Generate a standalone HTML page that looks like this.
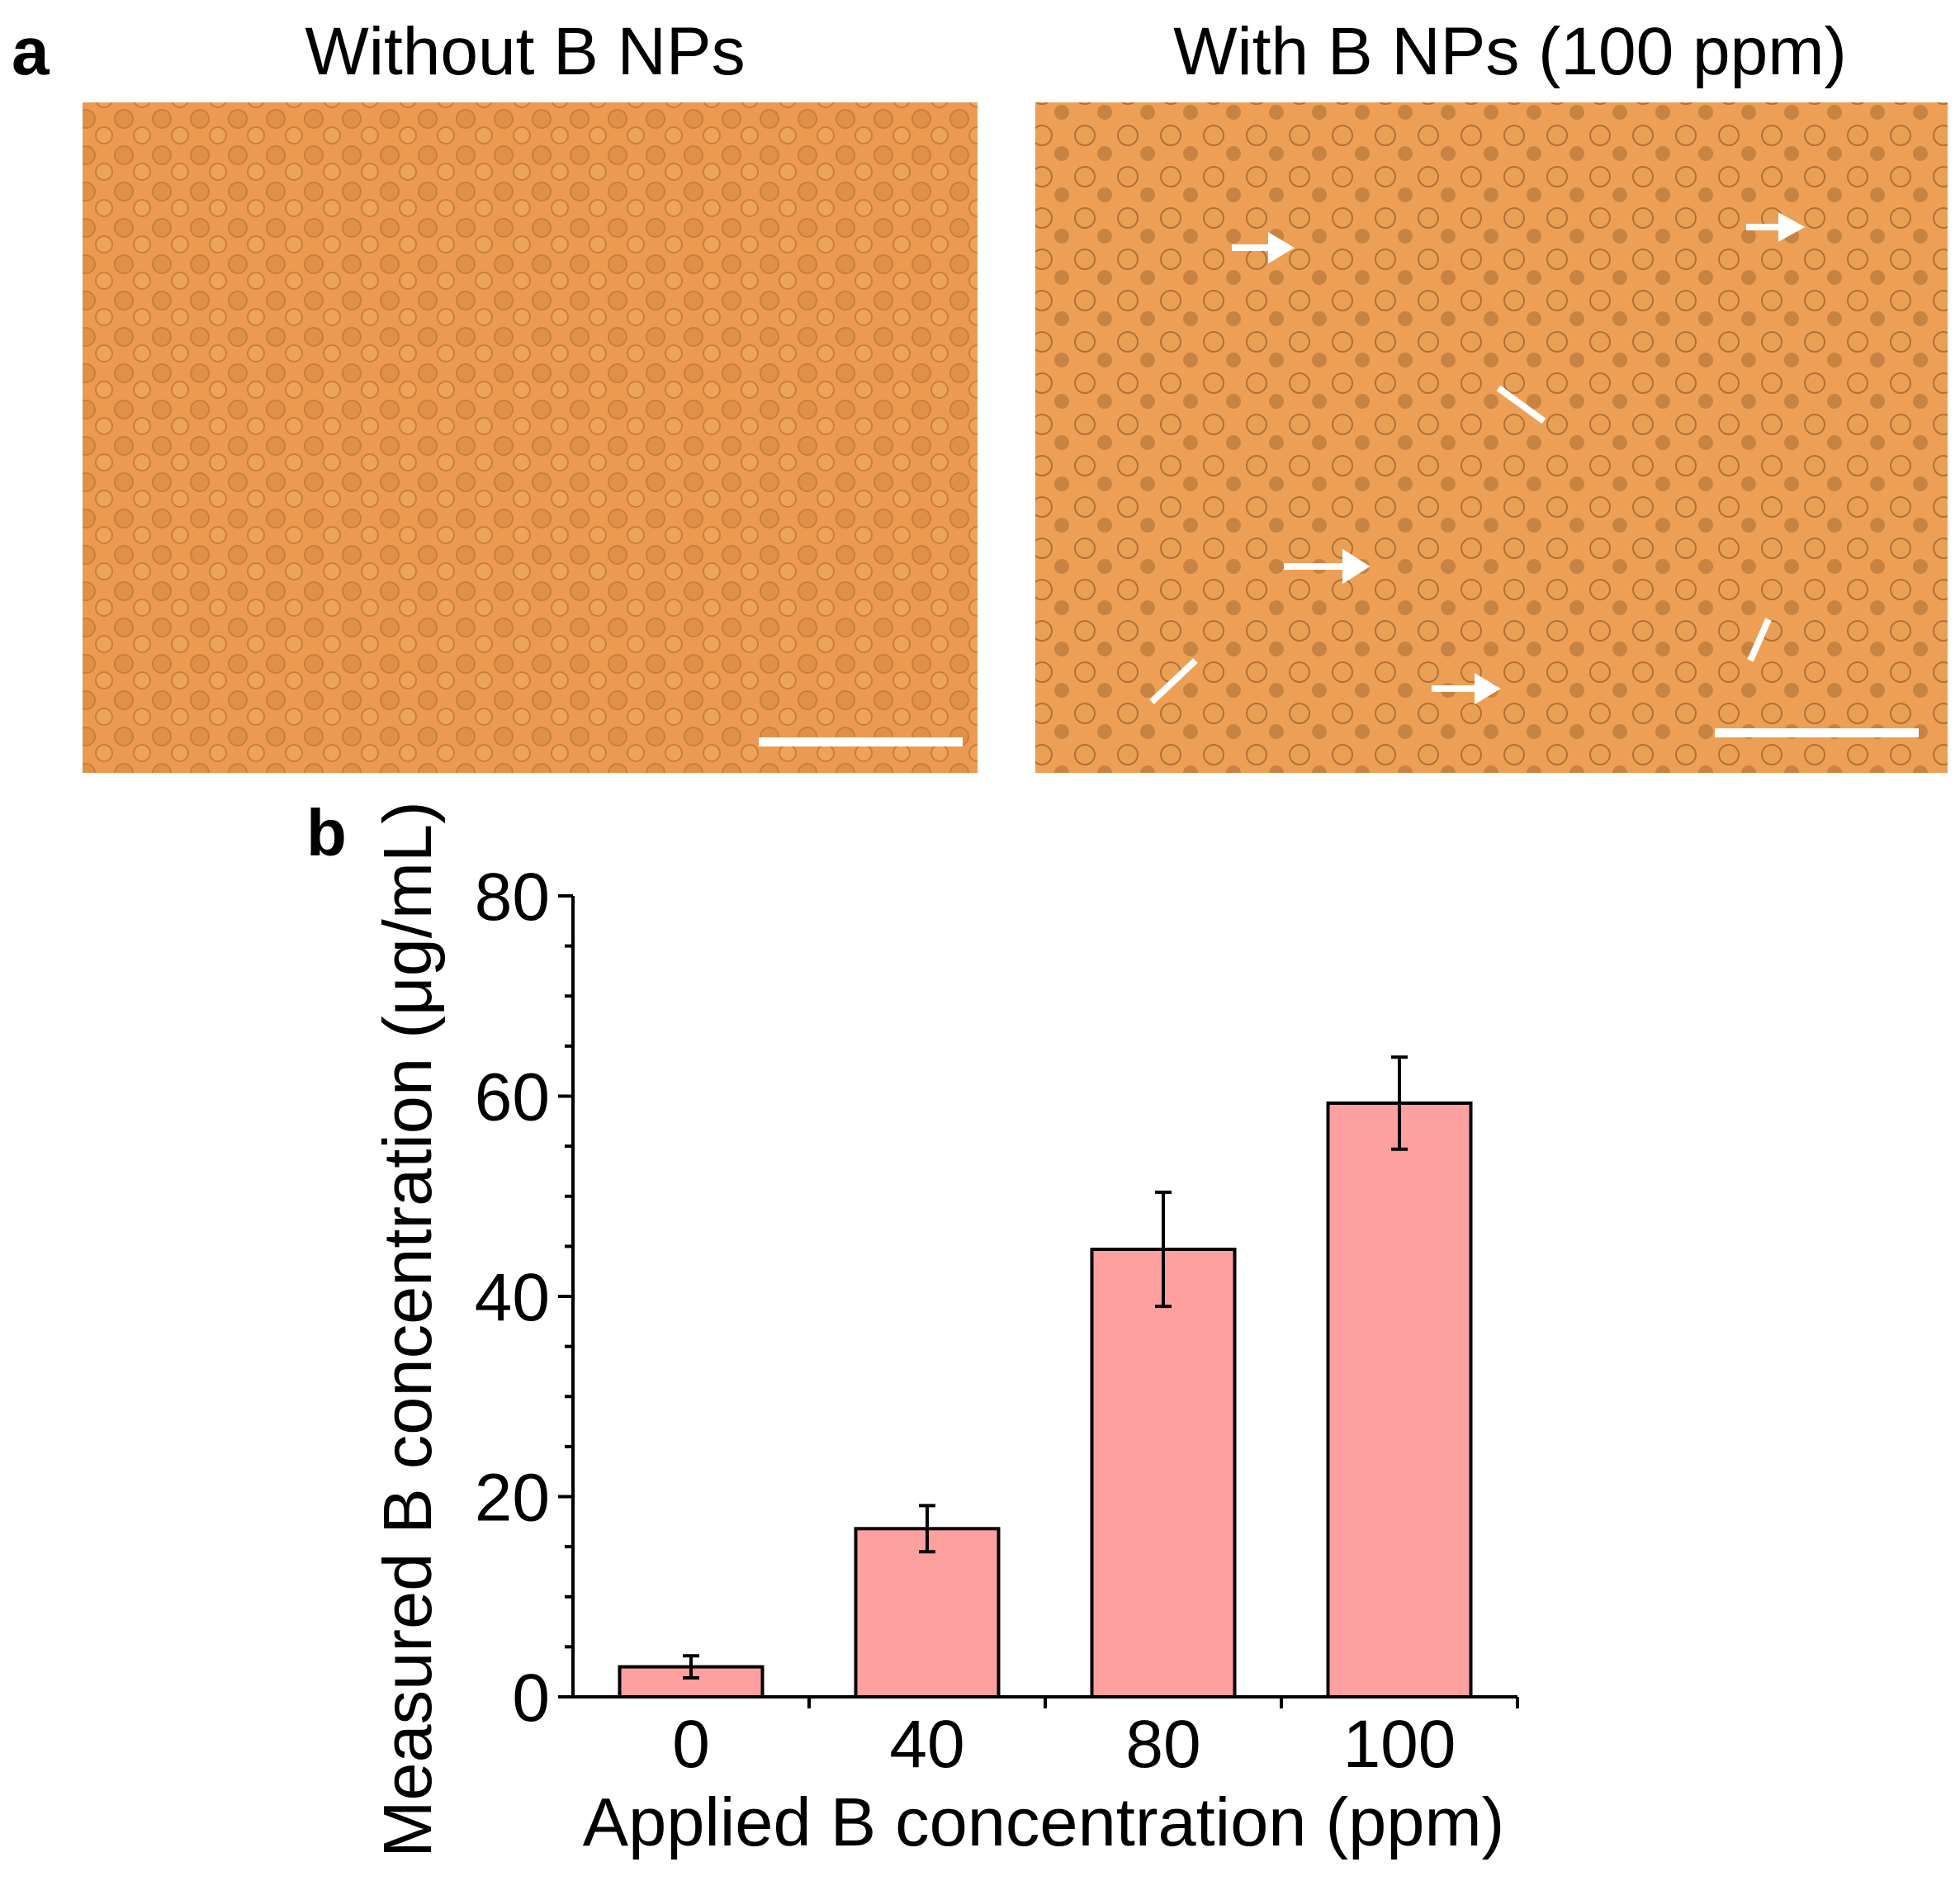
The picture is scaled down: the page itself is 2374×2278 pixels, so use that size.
<!DOCTYPE html>
<html><head><meta charset="utf-8"><style>
html,body{margin:0;padding:0;background:#fff;}
svg{display:block;font-family:"Liberation Sans",sans-serif;}
</style></head><body>
<svg id="fig" width="2374" height="2278" viewBox="0 0 2374 2278">
<defs>
<pattern id="cells" width="46" height="44" patternUnits="userSpaceOnUse">
<circle cx="12" cy="12" r="11" fill="#d98a40" stroke="#b56a2a" stroke-width="2" opacity="0.6"/>
<circle cx="34" cy="32" r="10" fill="#f0a860" stroke="#b56a2a" stroke-width="2" opacity="0.6"/>
</pattern>
<pattern id="cells2" width="52" height="50" patternUnits="userSpaceOnUse">
<circle cx="14" cy="14" r="12" fill="#e6a055" stroke="#8a5020" stroke-width="2" opacity="0.6"/>
<circle cx="38" cy="36" r="9" fill="#9a6028" opacity="0.45"/>
</pattern>
</defs>
<text x="14" y="90" font-size="82" font-weight="bold">a</text>
<text x="636" y="90" font-size="82" text-anchor="middle">Without B NPs</text>
<text x="1829" y="90" font-size="82" text-anchor="middle">With B NPs (100 ppm)</text>
<g>
<rect x="100" y="124" width="1084" height="812" fill="#ec9a52"/>
<rect x="100" y="124" width="1084" height="812" fill="url(#cells)"/>
<rect x="919" y="893" width="247" height="11" fill="#fff"/>
</g>
<g>
<rect x="1254" y="124" width="1105" height="812" fill="#eda055"/>
<rect x="1254" y="124" width="1105" height="812" fill="url(#cells2)"/>
<rect x="2077" y="882" width="247" height="11" fill="#fff"/>
<g fill="#fff" stroke="#fff" stroke-width="8">
<line x1="1492" y1="300" x2="1540" y2="300"/><polygon points="1540,288 1560,300 1540,312"/>
<line x1="2115" y1="275" x2="2158" y2="275"/><polygon points="2158,264 2178,275 2158,286"/>
<line x1="1555" y1="686" x2="1630" y2="686"/><polygon points="1630,672 1652,686 1630,700"/>
<line x1="1734" y1="834" x2="1790" y2="834"/><polygon points="1790,822 1810,834 1790,846"/>
<line x1="1815" y1="470" x2="1870" y2="510"/>
<line x1="1448" y1="800" x2="1395" y2="850"/>
<line x1="2142" y1="750" x2="2120" y2="800"/>
</g>
</g>
<text x="371" y="1036" font-size="80" font-weight="bold">b</text>
<g id="chart"></g>
</svg>
<script>
const categories = ["0","40","80","100"];
const values = [3.0, 16.8, 44.7, 59.3];
const errors = [1.1, 2.3, 5.7, 4.6];
const yTicks = [0,20,40,60,80];
const yMinorStep = 5;
const NS="http://www.w3.org/2000/svg";
const X0=694, X1=1838, Y0=2055, Y1=1085, YMAX=80;
const band=(X1-X0)/categories.length, barW=173;
const y=v=>Y0-(v/YMAX)*(Y0-Y1);
const xc=i=>X0+band*(i+0.5);
const g=document.getElementById('chart');
function mk(tag,attrs,parent){const e=document.createElementNS(NS,tag);for(const k in attrs)e.setAttribute(k,attrs[k]);(parent||g).appendChild(e);return e;}
values.forEach((v,i)=>{
  const r=mk('rect',{x:xc(i)-barW/2,y:y(v),width:barW,height:Y0-y(v),fill:'#ffa0a0',stroke:'#000','stroke-width':4});
  
  
  const e=errors[i],cx=xc(i);
  const eg=mk('g',{stroke:'#000','stroke-width':4});
  
  
  mk('line',{x1:cx,x2:cx,y1:y(v+e),y2:y(v-e)},eg);
  mk('line',{x1:cx-10,x2:cx+10,y1:y(v+e),y2:y(v+e)},eg);
  mk('line',{x1:cx-10,x2:cx+10,y1:y(v-e),y2:y(v-e)},eg);
  const t=mk('text',{x:cx,y:2140,'font-size':82,'text-anchor':'middle'});
  t.textContent=categories[i];
  
  
});
const ax=mk('g',{stroke:'#000','stroke-width':4,fill:'none'});


mk('line',{x1:X0,x2:X0,y1:Y1,y2:Y0+2},ax);
mk('line',{x1:X0-2,x2:X1,y1:Y0,y2:Y0},ax);
for(let i=1;i<=categories.length;i++)mk('line',{x1:X0+band*i,x2:X0+band*i,y1:Y0,y2:Y0+14},ax);
for(let v=0;v<=YMAX;v+=yMinorStep){
  const major=yTicks.includes(v);
  mk('line',{x1:X0-(major?18:10),x2:X0,y1:y(v),y2:y(v)},ax);
}
yTicks.forEach(v=>{
  const t=mk('text',{x:666,y:y(v)+29,'font-size':82,'text-anchor':'end'});
  t.textContent=v;
  
  
});
const xt=mk('text',{x:1264,y:2235,'font-size':83,'text-anchor':'middle'});
xt.textContent='Applied B concentration (ppm)';


const yt=mk('text',{x:0,y:0,'font-size':83,'text-anchor':'middle',transform:'translate(522,1610) rotate(-90)'});
yt.textContent='Measured B concentration (\u03bcg/mL)';


</script>
</body></html>
